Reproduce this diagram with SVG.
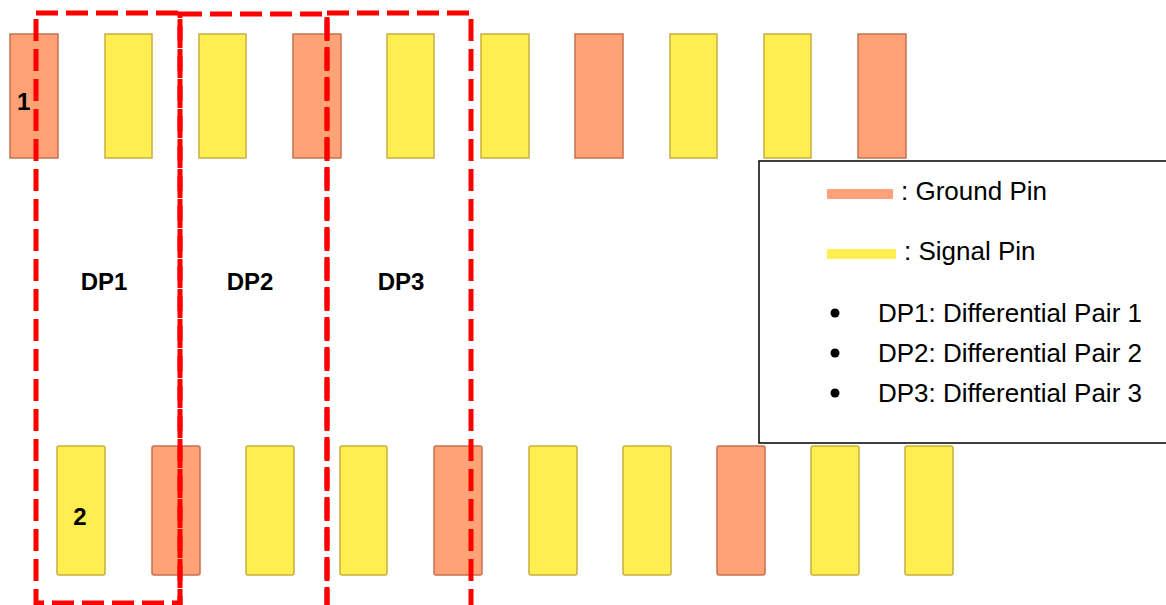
<svg xmlns="http://www.w3.org/2000/svg" width="1166" height="605" viewBox="0 0 1166 605">
  <style>
    .gnd { fill: #FFA275; stroke: #C8714F; stroke-width: 1.5; }
    .sig { fill: #FFEE50; stroke: #C6B03C; stroke-width: 1.5; }
    .dp { fill: none; stroke: #FF0000; stroke-width: 5; stroke-dasharray: 22 8; }
    .lbl { font-family: "Liberation Sans", Arial, sans-serif; font-weight: bold; font-size: 24px; fill: #000; }
    .leg { font-family: "Liberation Sans", Arial, sans-serif; font-size: 26px; fill: #000; }
  </style>
  <rect width="1166" height="605" fill="#FFFFFF"/>

  <g id="top-row">
    <g id="t1"><rect class="gnd" x="10" y="34" width="48" height="124"/></g>
    <g id="t2"><rect class="sig" x="105" y="34" width="47" height="124"/></g>
    <g id="t3"><rect class="sig" x="199" y="34" width="47" height="124"/></g>
    <g id="t4"><rect class="gnd" x="293" y="34" width="48" height="124"/></g>
    <g id="t5"><rect class="sig" x="387" y="34" width="47" height="124"/></g>
    <g id="t6"><rect class="sig" x="481" y="34" width="48" height="124"/></g>
    <g id="t7"><rect class="gnd" x="575" y="34" width="48" height="124"/></g>
    <g id="t8"><rect class="sig" x="670" y="34" width="47" height="124"/></g>
    <g id="t9"><rect class="sig" x="764" y="34" width="47" height="124"/></g>
    <g id="t10"><rect class="gnd" x="858" y="34" width="48" height="124"/></g>
  </g>

  <g id="bottom-row">
    <g id="b1"><rect class="sig" x="57" y="446" width="48" height="129" rx="2"/></g>
    <g id="b2"><rect class="gnd" x="152" y="446" width="48" height="129" rx="2"/></g>
    <g id="b3"><rect class="sig" x="246" y="446" width="48" height="129" rx="2"/></g>
    <g id="b4"><rect class="sig" x="340" y="446" width="47" height="129" rx="2"/></g>
    <g id="b5"><rect class="gnd" x="434" y="446" width="48" height="129" rx="2"/></g>
    <g id="b6"><rect class="sig" x="529" y="446" width="48" height="129" rx="2"/></g>
    <g id="b7"><rect class="sig" x="623" y="446" width="48" height="129" rx="2"/></g>
    <g id="b8"><rect class="gnd" x="717" y="446" width="48" height="129" rx="2"/></g>
    <g id="b9"><rect class="sig" x="811" y="446" width="48" height="129" rx="2"/></g>
    <g id="b10"><rect class="sig" x="905" y="446" width="48" height="129" rx="2"/></g>
  </g>

  <g id="pin-labels">
    <text class="lbl" x="17" y="110">1</text>
    <text class="lbl" x="80" y="525" text-anchor="middle">2</text>
  </g>

  <g id="dp-boxes">
    <rect id="dp1-box" class="dp" x="36" y="13" width="144" height="590"/>
    <rect id="dp2-box" class="dp" x="180" y="14" width="147" height="620"/>
    <rect id="dp3-box" class="dp" x="327" y="13" width="144" height="620"/>
  </g>

  <g id="dp-labels">
    <text class="lbl" x="104" y="290" text-anchor="middle">DP1</text>
    <text class="lbl" x="250" y="290" text-anchor="middle">DP2</text>
    <text class="lbl" x="401" y="290" text-anchor="middle">DP3</text>
  </g>

  <g id="legend">
    <rect x="759" y="161" width="410" height="282" fill="#FFFFFF" stroke="#000000" stroke-width="1.5"/>
    <rect x="827" y="189" width="66" height="10" fill="#FFA27A"/>
    <text class="leg" x="901" y="200">: Ground Pin</text>
    <rect x="827" y="249" width="69" height="10" fill="#FFF050"/>
    <text class="leg" x="904" y="260">: Signal Pin</text>
    <circle cx="835" cy="313" r="4.5" fill="#000"/>
    <text class="leg" x="878" y="322">DP1: Differential Pair 1</text>
    <circle cx="835" cy="353" r="4.5" fill="#000"/>
    <text class="leg" x="878" y="362">DP2: Differential Pair 2</text>
    <circle cx="835" cy="393" r="4.5" fill="#000"/>
    <text class="leg" x="878" y="402">DP3: Differential Pair 3</text>
  </g>
</svg>
